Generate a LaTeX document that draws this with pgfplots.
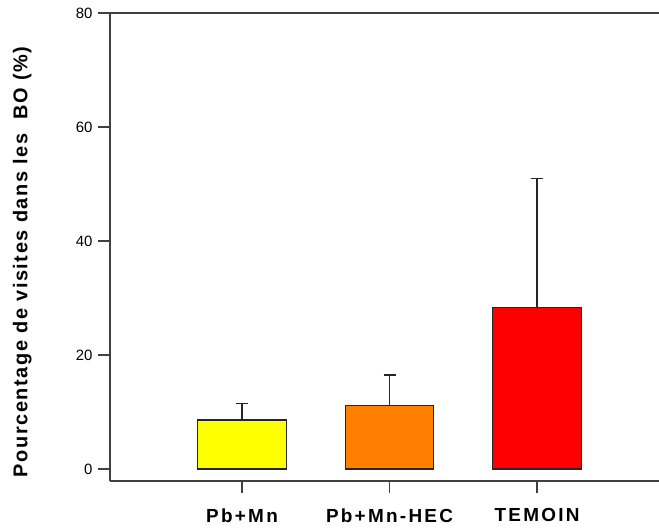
\documentclass[border=0pt]{standalone}
\usepackage{pgfplots}
\pgfplotsset{compat=1.18}
\usepackage{fontspec}
\setmainfont{Liberation Sans}
\newfontfamily\ylabfont[LetterSpace=8]{Liberation Sans}
\newfontfamily\xlabfont[LetterSpace=12]{Liberation Sans}

\definecolor{barorange}{HTML}{FF8000}
\definecolor{baryellow}{HTML}{FFFF00}
\definecolor{barred}{HTML}{FF0000}
\definecolor{axisgray}{HTML}{404040}

\begin{document}
\begin{tikzpicture}
\begin{axis}[
  name=ax,
  scale only axis,
  width=549bp, height=468bp,
  xmin=-0.895, xmax=2.827,
  ymin=-2.105, ymax=80,
  axis x line*=bottom, axis y line*=left,
  axis line style={-, line width=1.4bp, color=axisgray},
  xtick={0,1,2},
  xticklabels={Pb+Mn, Pb+Mn-HEC, TEMOIN},
  ytick={0,20,40,60,80},
  tick align=outside,
  major tick length=12bp,
  tick style={line width=1.2bp, color=axisgray},
  /pgf/number format/assume math mode=true,
  yticklabel style={font=\fontsize{15}{15}\selectfont, xshift=-2bp},
  xticklabel style={font=\xlabfont\bfseries\fontsize{19}{19}\selectfont, yshift=-12bp},
  ylabel={Pourcentage de visites dans les\ \ BO (\%)},
  ylabel style={font=\ylabfont\bfseries\fontsize{20}{20}\selectfont,
    at={(axis description cs:-0.160,0.468)}, anchor=center},
  ybar,
  bar width=0.6,
  every axis plot/.append style={bar shift=0pt, draw=black!85, line width=1.2bp},
  error bars/error bar style={line width=1.2bp, color=black!85},
  error bars/error mark options={rotate=90, line width=1.2bp, mark size=6bp, color=black!85},
]
\addplot[fill=baryellow, error bars/.cd, y dir=plus, y explicit]
  coordinates {(0,8.6) +- (0,2.9)};
\addplot[fill=barorange, error bars/.cd, y dir=plus, y explicit]
  coordinates {(1,11.2) +- (0,5.3)};
\addplot[fill=barred, error bars/.cd, y dir=plus, y explicit]
  coordinates {(2,28.4) +- (0,22.5)};
\end{axis}
% top frame line of the plot area
\draw[line width=1.4bp, axisgray] (ax.north west) -- (ax.north east);
\pgfresetboundingbox
\path ([xshift=-110bp,yshift=-48bp]ax.south west) rectangle ([yshift=13bp]ax.north east);
\end{tikzpicture}
\end{document}
